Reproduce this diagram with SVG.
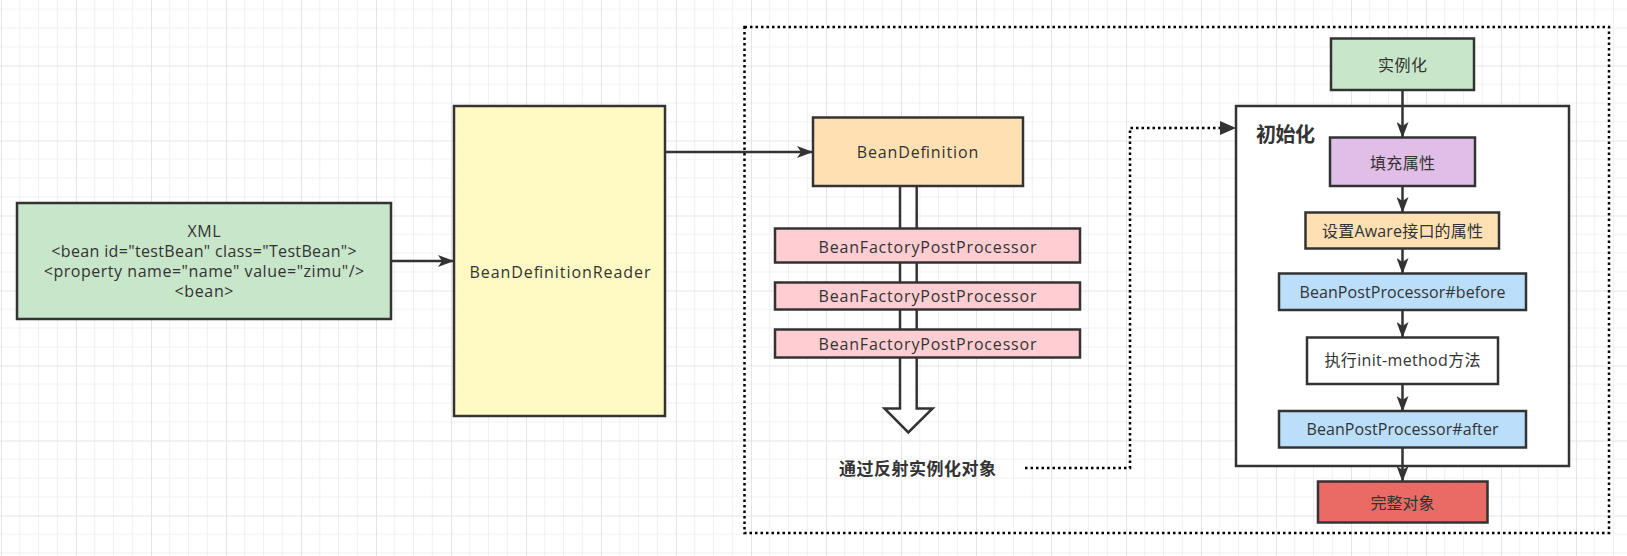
<svg xmlns="http://www.w3.org/2000/svg" width="1627" height="556" viewBox="0 0 1627 556">
  <defs>
    <pattern id="grid" patternUnits="userSpaceOnUse" x="1" y="-9.5" width="75" height="75">
      <path d="M18.75 0V75M37.5 0V75M56.25 0V75M0 18.75H75M0 37.5H75M0 56.25H75" stroke="#f0f0f0" stroke-width="1" fill="none"/>
      <path d="M0.5 0V75M0 0.5H75" stroke="#e4e4e4" stroke-width="1" fill="none"/>
    </pattern>
    <marker id="arrow" viewBox="0 0 16 12" refX="15" refY="6" markerWidth="16" markerHeight="12" markerUnits="userSpaceOnUse" orient="auto">
      <path d="M0 0L16 6L0 12L4 6Z" fill="#333333"/>
    </marker>
    <style>
      .box { stroke: #333333; stroke-width: 2.5; }
      .txt { font-family: "Open Sans", "Noto Sans CJK SC", sans-serif; font-size: 16px; fill: #333333; text-anchor: middle; }
      .bold { font-family: "Noto Sans CJK SC", sans-serif; font-weight: bold; fill: #333333; }
      .link { stroke: #333333; stroke-width: 2.5; fill: none; }
      .dots { stroke: #000000; stroke-width: 2.5; fill: none; stroke-dasharray: 2.5 3; }
    </style>
  </defs>

  <!-- canvas grid -->
  <rect x="0" y="0" width="1627" height="556" fill="#ffffff"/>
  <rect x="0" y="0" width="1627" height="556" fill="url(#grid)"/>

  <!-- dotted container for the bean lifecycle -->
  <rect id="lifecycle" x="744.5" y="27" width="864.5" height="506" fill="#ffffff" class="dots"/>

  <!-- initialisation frame -->
  <g id="init-frame">
    <rect x="1236" y="106" width="333" height="360" fill="#ffffff" class="box"/>
    <text x="1256" y="142" class="bold" font-size="20" textLength="59" lengthAdjust="spacing">初始化</text>
  </g>

  <!-- connectors -->
  <g id="connectors">
    <path class="link" d="M391 261H453" marker-end="url(#arrow)"/>
    <path class="link" d="M665 152H812" marker-end="url(#arrow)"/>
    <path class="dots" d="M1025 468H1130V128H1222"/>
    <path d="M1220 121L1236 128L1220 135Z" fill="#333333"/>
    <path class="link" d="M1402.5 90V137" marker-end="url(#arrow)"/>
    <path class="link" d="M1402.5 186V212" marker-end="url(#arrow)"/>
    <path class="link" d="M1402.5 248V273" marker-end="url(#arrow)"/>
    <path class="link" d="M1402.5 310V337" marker-end="url(#arrow)"/>
    <path class="link" d="M1402.5 384V411" marker-end="url(#arrow)"/>
    <path class="link" d="M1402.5 447V481" marker-end="url(#arrow)"/>
    <!-- hollow block arrow through the post processors -->
    <path d="M900 186V408.5H884.5L908.3 432.5L932.5 408.5H916.7V186" fill="#ffffff" stroke="#333333" stroke-width="2.5"/>
  </g>

  <g id="xml">
    <rect x="17" y="203" width="374" height="116" fill="#c8e6c9" class="box"/>
    <text class="txt" x="204" y="236.7" font-size="16.5" textLength="33" lengthAdjust="spacing">XML</text>
    <text class="txt" x="204" y="256.7" font-size="16.5" textLength="305.5" lengthAdjust="spacing">&lt;bean id="testBean" class="TestBean"&gt;</text>
    <text class="txt" x="204" y="276.7" font-size="16.5" textLength="320.5" lengthAdjust="spacing">&lt;property name="name" value="zimu"/&gt;</text>
    <text class="txt" x="204" y="296.7" font-size="16.5" textLength="59" lengthAdjust="spacing">&lt;bean&gt;</text>
  </g>

  <g id="reader">
    <rect x="454" y="106" width="211" height="310" fill="#fff9c4" class="box"/>
    <text class="txt" x="560" y="278.3" font-size="18.5" textLength="181" lengthAdjust="spacing">BeanDefinitionReader</text>
  </g>

  <g id="bean-definition">
    <rect x="813" y="117.5" width="210" height="68.5" fill="#ffe0b2" class="box"/>
    <text class="txt" x="917.5" y="158.3" font-size="18.5" textLength="121.5" lengthAdjust="spacing">BeanDefinition</text>
  </g>

  <g id="bfpp-1">
    <rect x="775" y="228.5" width="305" height="34" fill="#ffcdd2" class="box"/>
    <text class="txt" x="927.5" y="252.5" font-size="18" textLength="218" lengthAdjust="spacing">BeanFactoryPostProcessor</text>
  </g>
  <g id="bfpp-2">
    <rect x="775" y="282.5" width="305" height="27" fill="#ffcdd2" class="box"/>
    <text class="txt" x="927.5" y="302" font-size="18" textLength="218" lengthAdjust="spacing">BeanFactoryPostProcessor</text>
  </g>
  <g id="bfpp-3">
    <rect x="775" y="329.5" width="305" height="28" fill="#ffcdd2" class="box"/>
    <text class="txt" x="927.5" y="350" font-size="18" textLength="218" lengthAdjust="spacing">BeanFactoryPostProcessor</text>
  </g>

  <g id="reflect-label">
    <text class="bold" x="839" y="475" font-size="17" textLength="157" lengthAdjust="spacing">通过反射实例化对象</text>
  </g>

  <g id="instantiate">
    <rect x="1331" y="38.5" width="143" height="51.5" fill="#c8e6c9" class="box"/>
    <text class="txt" x="1402.5" y="71" textLength="49" lengthAdjust="spacing">实例化</text>
  </g>
  <g id="populate">
    <rect x="1330" y="137.5" width="145" height="48.5" fill="#e1bee7" class="box"/>
    <text class="txt" x="1402.5" y="168.5" textLength="65" lengthAdjust="spacing">填充属性</text>
  </g>
  <g id="aware">
    <rect x="1305.5" y="212.5" width="193.5" height="36" fill="#ffe0b2" class="box"/>
    <text class="txt" x="1402.5" y="236.5" textLength="161" lengthAdjust="spacing">设置Aware接口的属性</text>
  </g>
  <g id="bpp-before">
    <rect x="1279" y="273.5" width="247" height="36.5" fill="#bbdefb" class="box"/>
    <text class="txt" x="1402.5" y="298.3" font-size="16.5" textLength="206" lengthAdjust="spacing">BeanPostProcessor#before</text>
  </g>
  <g id="init-method">
    <rect x="1307" y="337.5" width="191" height="46.5" fill="#ffffff" class="box"/>
    <text class="txt" x="1402.5" y="366" textLength="156" lengthAdjust="spacing">执行init-method方法</text>
  </g>
  <g id="bpp-after">
    <rect x="1279" y="411" width="247" height="36.5" fill="#bbdefb" class="box"/>
    <text class="txt" x="1402.5" y="435" font-size="16.5" textLength="192" lengthAdjust="spacing">BeanPostProcessor#after</text>
  </g>
  <g id="complete">
    <rect x="1318" y="481.5" width="169.5" height="41" fill="#ea6b66" class="box"/>
    <text class="txt" x="1402.5" y="508.5" textLength="64" lengthAdjust="spacing">完整对象</text>
  </g>
</svg>
